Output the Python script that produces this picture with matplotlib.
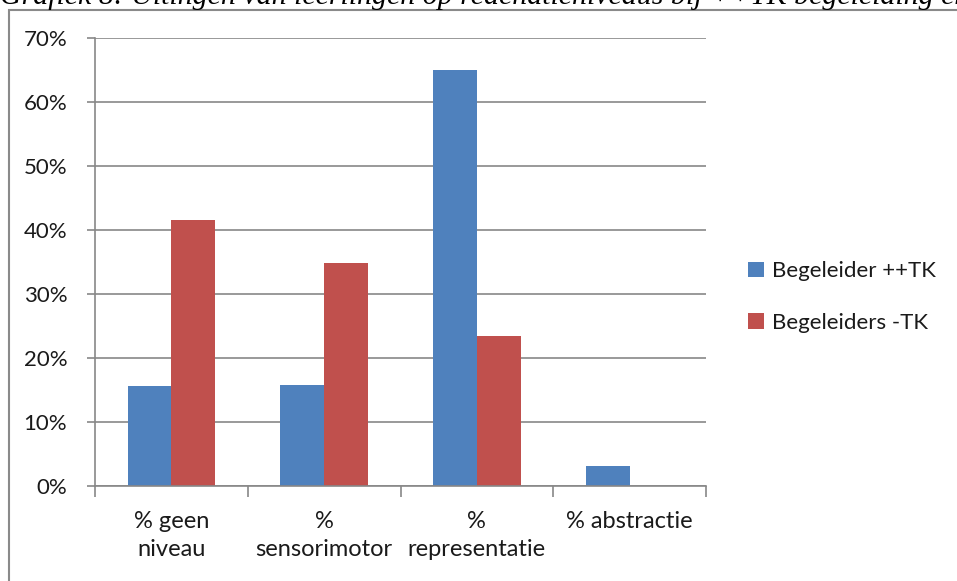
import matplotlib.pyplot as plt
from matplotlib.patches import Rectangle
from matplotlib.ticker import FixedLocator, FuncFormatter

categories = ["% geen\nniveau", "%\nsensorimotor", "%\nrepresentatie", "% abstractie"]
begeleider_pp = [0.156, 0.158, 0.650, 0.032]
begeleiders_min = [0.415, 0.348, 0.234, 0.0]
series_names = ["Begeleider ++TK", "Begeleiders -TK"]
yticks = [0.0, 0.1, 0.2, 0.3, 0.4, 0.5, 0.6, 0.7]

blue = "#4F81BD"
red = "#C0504D"
grid = "#878787"

plt.rcParams["font.family"] = ["Lato", "DejaVu Sans"]

fig = plt.figure(figsize=(9.57, 5.81), dpi=100)
ax = fig.add_axes([95 / 957, 1 - 486 / 581, (706 - 95) / 957, (486 - 38) / 581])

# chart frame (only left and top visible in the crop)
fig.patches.append(Rectangle((9 / 957, -0.05), 1.2, 1 - 10 / 581 + 0.05,
                             transform=fig.transFigure, fill=False,
                             edgecolor="#8a8a8a", linewidth=1.5))

# cut-off caption above the chart
fig.text(0.0, 1 - 4 / 581,
         "Grafiek 8: Uitingen van leerlingen op redenatieniveaus bij ++TK begeleiding en",
         family=["Liberation Serif"], style="italic", fontsize=21.5,
         ha="left", va="baseline")

w = 1 / 3.5
x = list(range(len(categories)))
ax.bar([i - w / 2 for i in x], begeleider_pp, width=w, color=blue,
       label=series_names[0], zorder=3)
ax.bar([i + w / 2 for i in x], begeleiders_min, width=w, color=red,
       label=series_names[1], zorder=3)

ax.set_xlim(-0.5, 3.5)
ax.set_ylim(0, 0.7)

ax.yaxis.set_major_locator(FixedLocator(yticks))
ax.yaxis.set_major_formatter(FuncFormatter(lambda v, p: "%d%%" % round(v * 100)))
ax.grid(axis="y", color=grid, linewidth=1.2, zorder=0)

ax.xaxis.set_major_locator(FixedLocator([-0.5, 0.5, 1.5, 2.5, 3.5]))
ax.xaxis.set_major_formatter(FuncFormatter(lambda v, p: ""))
ax.xaxis.set_minor_locator(FixedLocator(x))
ax.set_xticklabels(categories, minor=True)
ax.tick_params(axis="x", which="major", length=8, color=grid, width=1.2)
ax.tick_params(axis="x", which="minor", length=0, pad=18, labelsize=17,
               labelcolor="#1a1a1a")
for lbl in ax.get_xticklabels(minor=True):
    lbl.set_linespacing(1.4)
ax.tick_params(axis="y", length=6, color=grid, width=1.2, pad=14,
               labelsize=16, labelcolor="#1a1a1a")

for s in ["top", "right"]:
    ax.spines[s].set_visible(False)
for s in ["left", "bottom"]:
    ax.spines[s].set_color(grid)
    ax.spines[s].set_linewidth(1.2)
    ax.spines[s].set_zorder(4)

ax.legend(loc="center left", bbox_to_anchor=(728 / 957, 1 - 297 / 581),
          bbox_transform=fig.transFigure, frameon=False, fontsize=16,
          handlelength=0.7, handleheight=0.7, handletextpad=0.4,
          labelspacing=1.4, labelcolor="#1a1a1a")

fig.savefig("out.png", dpi=100)
